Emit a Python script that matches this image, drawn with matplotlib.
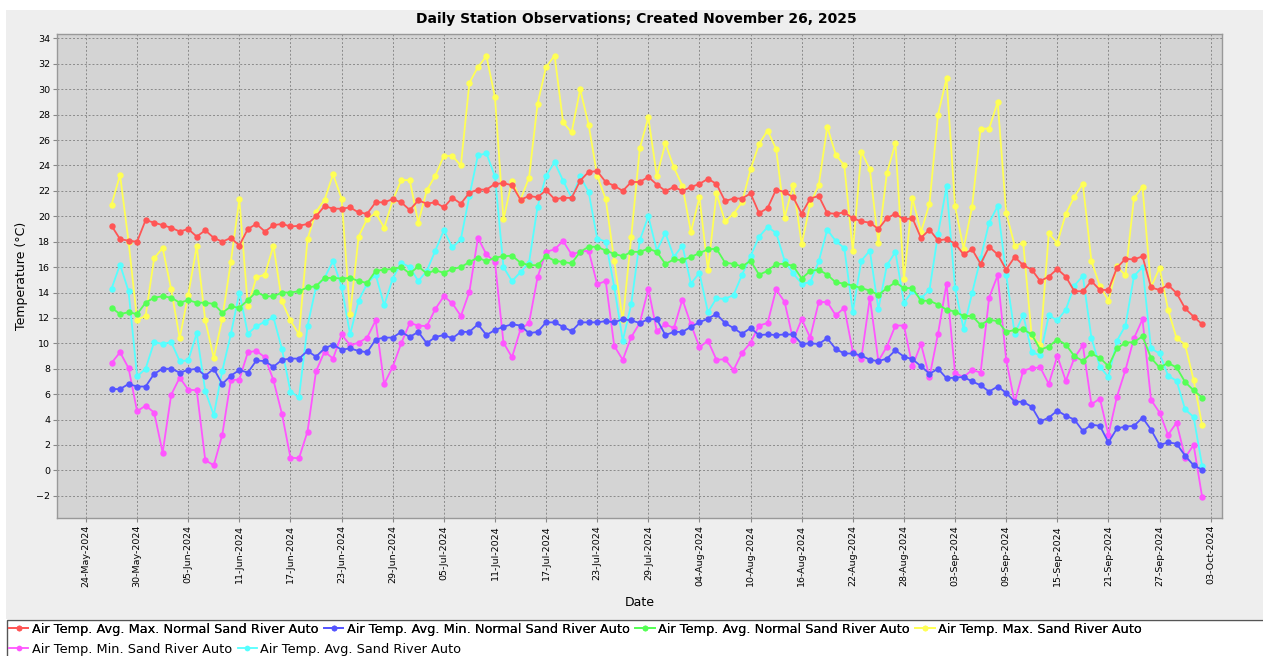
import matplotlib
matplotlib.use("Agg")
import matplotlib.pyplot as plt
import matplotlib.dates as mdates
from matplotlib.patches import Rectangle
import pandas as pd
import numpy as np

start_date = "2024-05-27"

avg_max_normal = [19.26, 18.2, 18.08, 18.0, 19.7, 19.5, 19.3, 19.1, 18.8, 19.0, 18.4, 18.9, 18.3, 18.0, 18.3, 17.7, 19.0, 19.4,
    18.8, 19.3, 19.4, 19.2, 19.25, 19.4, 20.0, 20.8, 20.6, 20.6, 20.7, 20.3, 20.2, 21.1, 21.1, 21.35, 21.1, 20.5, 21.25, 21.0, 21.1,
    20.7, 21.45, 21.0, 21.85, 22.1, 22.1, 22.55, 22.6, 22.45, 21.3, 21.6, 21.5, 22.05, 21.35, 21.45, 21.45, 22.8, 23.5, 23.55, 22.7,
    22.4, 22.0, 22.7, 22.7, 23.1, 22.5, 22.0, 22.3, 22.0, 22.3, 22.55, 22.95, 22.55, 21.2, 21.4, 21.4, 21.8, 20.25, 20.65, 22.1, 21.9,
    21.5, 20.2, 21.4, 21.6, 20.25, 20.2, 20.3, 19.85, 19.6, 19.5, 19.0, 19.85, 20.2, 19.75, 19.85, 18.3, 18.95, 18.1, 18.2, 17.85,
    17.0, 17.4, 16.25, 17.6, 17.0, 15.8, 16.8, 16.15, 15.8, 14.9, 15.25, 15.85, 15.25, 14.1, 14.1, 14.9, 14.2, 14.2, 15.95, 16.65,
    16.6, 16.85, 14.4, 14.2, 14.6, 13.95, 12.75, 12.1, 11.5]

avg_min_normal = [6.4, 6.4, 6.8, 6.6, 6.6, 7.6, 8.0, 8.0, 7.7, 7.9, 8.0, 7.45, 8.0, 6.8, 7.45, 7.9, 7.7, 8.65, 8.6, 8.15, 8.7, 8.8,
    8.8, 9.4, 8.95, 9.6, 9.9, 9.5, 9.6, 9.4, 9.3, 10.3, 10.45, 10.45, 10.9, 10.5, 10.9, 10.0, 10.5, 10.65, 10.4, 10.9, 10.9, 11.5,
    10.65, 11.05, 11.3, 11.5, 11.4, 10.8, 10.9, 11.65, 11.65, 11.3, 10.95, 11.65, 11.65, 11.65, 11.75, 11.65, 11.9, 11.8, 11.6, 11.9,
    11.9, 10.65, 10.9, 10.9, 11.3, 11.65, 11.95, 12.3, 11.6, 11.2, 10.75, 11.2, 10.65, 10.7, 10.65, 10.7, 10.7, 9.95, 10.0, 9.95,
    10.4, 9.55, 9.2, 9.2, 9.05, 8.7, 8.6, 8.8, 9.45, 8.95, 8.75, 8.2, 7.6, 8.0, 7.25, 7.3, 7.35, 7.0, 6.7, 6.2, 6.6, 6.1, 5.4, 5.4,
    5.0, 3.85, 4.15, 4.7, 4.3, 4.0, 3.1, 3.6, 3.5, 2.2, 3.3, 3.45, 3.5, 4.15, 3.2, 2.0, 2.2, 2.1, 1.15, 0.4, 0.05]

avg_normal = [12.8, 12.3, 12.45, 12.3, 13.2, 13.6, 13.7, 13.6, 13.2, 13.4, 13.2, 13.2, 13.1, 12.4, 12.9, 12.8, 13.4, 14.05, 13.7,
    13.7, 14.0, 14.0, 14.1, 14.4, 14.5, 15.15, 15.15, 15.1, 15.15, 14.9, 14.75, 15.7, 15.8, 15.85, 16.0, 15.5, 16.05, 15.5, 15.75,
    15.55, 15.85, 16.0, 16.4, 16.75, 16.45, 16.75, 16.85, 16.9, 16.35, 16.15, 16.15, 16.85, 16.5, 16.4, 16.3, 17.2, 17.6, 17.6, 17.3,
    17.05, 16.85, 17.2, 17.2, 17.45, 17.2, 16.25, 16.6, 16.55, 16.8, 17.1, 17.4, 17.45, 16.35, 16.25, 16.05, 16.5, 15.4, 15.7, 16.25,
    16.25, 16.1, 15.1, 15.7, 15.8, 15.4, 14.8, 14.7, 14.55, 14.35, 14.15, 13.8, 14.35, 14.8, 14.35, 14.35, 13.35, 13.35, 13.05,
    12.65, 12.5, 12.15, 12.15, 11.45, 11.85, 11.75, 10.9, 11.05, 11.1, 10.7, 9.5, 9.75, 10.3, 9.9, 9.0, 8.6, 9.2, 8.85, 8.2, 9.6,
    10.05, 10.1, 10.55, 8.85, 8.1, 8.45, 8.1, 6.95, 6.3, 5.73]

temp_max = [20.92, 23.25, 18.0, 11.85, 12.15, 16.7, 17.5, 14.25, 10.4, 13.8, 17.65, 11.8, 8.85, 11.95, 16.4, 21.35, 12.9, 15.2,
    15.4, 17.7, 13.3, 11.8, 10.7, 18.2, 20.35, 21.3, 23.3, 21.4, 12.3, 18.4, 19.8, 20.25, 19.1, 21.25, 22.85, 22.85, 19.5, 22.05,
    23.2, 24.75, 24.75, 24.0, 30.5, 31.75, 32.6, 29.4, 19.75, 22.8, 21.3, 23.05, 28.85, 31.75, 32.65, 27.4, 26.6, 30.0, 27.2, 23.2,
    21.35, 16.5, 11.8, 18.4, 25.35, 27.8, 23.15, 25.75, 23.85, 22.4, 18.75, 21.5, 15.75, 21.8, 19.6, 20.2, 21.1, 23.7, 25.7, 26.75,
    25.3, 19.9, 22.5, 17.8, 21.0, 22.45, 27.05, 24.85, 24.0, 17.25, 25.1, 23.7, 17.9, 23.4, 25.75, 15.05, 21.45, 18.75, 21.0, 28.0,
    30.85, 20.8, 17.45, 20.75, 26.9, 26.9, 29.0, 20.25, 17.7, 17.9, 10.55, 9.9, 18.65, 17.9, 20.2, 21.55, 22.55, 16.5, 14.5, 13.35,
    16.05, 15.35, 21.45, 22.3, 14.4, 15.95, 12.65, 10.4, 9.9, 7.1, 3.55]

temp_min = [8.45, 9.3, 8.05, 4.65, 5.1, 4.55, 1.4, 5.95, 7.3, 6.35, 6.3, 0.8, 0.4, 2.8, 7.1, 7.15, 9.3, 9.4, 8.9, 7.1, 4.45, 1.0,
    0.95, 3.05, 7.8, 9.35, 8.8, 10.7, 9.85, 10.05, 10.45, 11.8, 6.8, 8.15, 10.0, 11.6, 11.4, 11.35, 12.7, 13.7, 13.15, 12.15, 14.05,
    18.3, 17.0, 16.4, 10.05, 8.9, 11.1, 11.6, 15.2, 17.2, 17.4, 18.05, 17.0, 17.2, 17.3, 14.65, 14.9, 9.8, 8.7, 10.5, 11.6, 14.3,
    10.95, 11.5, 11.2, 13.45, 11.5, 9.7, 10.2, 8.7, 8.75, 7.9, 9.25, 10.05, 11.4, 11.6, 14.25, 13.25, 10.25, 11.9, 10.45, 13.25,
    13.25, 12.2, 12.8, 9.35, 8.8, 13.6, 8.6, 9.75, 11.4, 11.4, 8.2, 9.95, 7.35, 10.75, 14.7, 7.65, 7.35, 7.9, 7.7, 13.6, 15.35, 8.7,
    5.35, 7.85, 8.05, 8.1, 6.8, 9.0, 7.05, 8.85, 9.85, 5.2, 5.65, 2.8, 5.8, 7.9, 10.4, 11.9, 5.55, 4.55, 2.8, 3.75, 1.0, 2.0, -2.1]

temp_avg = [14.3, 16.2, 14.1, 7.4, 8.0, 10.1, 9.95, 10.1, 8.6, 8.65, 10.8, 6.25, 4.35, 7.85, 10.7, 14.0, 10.75, 11.35, 11.7, 12.05,
    9.55, 6.2, 5.75, 11.35, 14.45, 15.15, 16.5, 14.45, 10.7, 13.35, 14.7, 15.4, 13.0, 15.1, 16.35, 16.0, 14.9, 15.7, 17.3, 18.9,
    17.55, 18.2, 21.6, 24.8, 24.95, 23.15, 16.0, 14.9, 15.6, 16.35, 20.75, 23.2, 24.25, 22.8, 21.45, 23.15, 21.9, 18.25, 18.0, 14.45,
    10.2, 13.1, 18.1, 20.0, 17.3, 18.7, 16.8, 17.7, 14.7, 15.55, 12.45, 13.55, 13.5, 13.8, 15.4, 16.85, 18.4, 19.15, 18.7, 16.5, 15.5,
    14.7, 14.8, 16.45, 18.95, 18.05, 17.5, 12.5, 16.5, 17.3, 12.7, 16.15, 17.2, 13.2, 14.1, 13.55, 14.2, 18.6, 22.35, 14.35, 11.15,
    13.95, 16.7, 19.5, 20.8, 15.4, 10.75, 12.25, 9.3, 9.05, 12.2, 11.8, 12.65, 14.55, 15.3, 10.45, 8.15, 7.35, 10.2, 11.4, 15.3, 16.0,
    9.6, 9.2, 7.45, 7.05, 4.8, 4.2, 0.35]

series = [
    ("Air Temp. Avg. Max. Normal Sand River Auto", avg_max_normal, "#ff5555"),
    ("Air Temp. Avg. Min. Normal Sand River Auto", avg_min_normal, "#5555ff"),
    ("Air Temp. Avg. Normal Sand River Auto", avg_normal, "#55ff55"),
    ("Air Temp. Max. Sand River Auto", temp_max, "#ffff55"),
    ("Air Temp. Min. Sand River Auto", temp_min, "#ff55ff"),
    ("Air Temp. Avg. Sand River Auto", temp_avg, "#55ffff"),
]

dates = pd.date_range(start_date, periods=len(avg_max_normal), freq="D")

W, H = 1263, 656
fig = plt.figure(figsize=(W / 100, H / 100), dpi=100)
fig.patch.set_facecolor("white")
fig.patches.append(Rectangle((6 / W, 1 - 619 / H), 1, (619 - 10) / H, transform=fig.transFigure,
                             facecolor="#eeeeee", edgecolor="none", zorder=-10))
fig.patches.append(Rectangle((7 / W, -0.1), 1, 0.1 + (1 - 620 / H), transform=fig.transFigure,
                             facecolor="white", edgecolor="#555555", linewidth=1.0, zorder=-9))

ax = fig.add_axes([57 / W, 1 - 518 / H, (1222 - 57) / W, (518 - 34) / H])
ax.set_facecolor("#d4d4d4")

handles = []
n = len(series)
for i, (label, vals, col) in enumerate(series):
    ln, = ax.plot(dates, vals, color=col, linewidth=1.3, marker="o", markersize=4.6,
                  markeredgewidth=0, label=label, zorder=10 + (n - i))
    handles.append(ln)

base = pd.Timestamp("2024-05-24")
ax.set_xlim(base - pd.Timedelta(days=3.4), base + pd.Timedelta(days=133.33))
ax.set_ylim(-3.75, 34.35)
ticks = pd.date_range("2024-05-24", "2024-10-03", freq="6D")
ax.set_xticks(ticks)
ax.xaxis.set_major_formatter(mdates.DateFormatter("%d-%b-%Y"))
ax.set_yticks(np.arange(-2, 35, 2))
ax.tick_params(axis="x", labelrotation=90, labelsize=6.8, length=3, color="#888888", pad=2)
ax.tick_params(axis="y", labelsize=6.8, length=3, color="#888888", pad=2)
ax.grid(True, color="#8a8a8a", linestyle=(0, (2, 2)), linewidth=0.7)
ax.set_axisbelow(True)
for s in ax.spines.values():
    s.set_color("#999999")
    s.set_linewidth(1.0)

ax.set_ylabel("Temperature (°C)", fontsize=9, labelpad=6)
fig.text((57 + 1222) / 2 / W, 1 - 602 / H, "Date", ha="center", va="center", fontsize=9)
fig.text(636 / W, 1 - 19.5 / H, "Daily Station Observations; Created November 26, 2025",
         ha="center", va="center", fontsize=10, fontweight="bold")

leg_kw = dict(loc="upper left", frameon=False, handlelength=1.5, handletextpad=0.25, columnspacing=0.45,
              borderpad=0, borderaxespad=0, labelspacing=0, fontsize=9.3, markerscale=0.9)
l1 = fig.legend(handles[:4], [h.get_label() for h in handles[:4]], ncol=4,
                bbox_to_anchor=(9 / W, 1 - 623 / H), **leg_kw)
fig.add_artist(l1)
l2 = fig.legend(handles[4:], [h.get_label() for h in handles[4:]], ncol=2,
                bbox_to_anchor=(9 / W, 1 - 643 / H), **leg_kw)

fig.savefig("out.png", dpi=100, facecolor=fig.get_facecolor())
